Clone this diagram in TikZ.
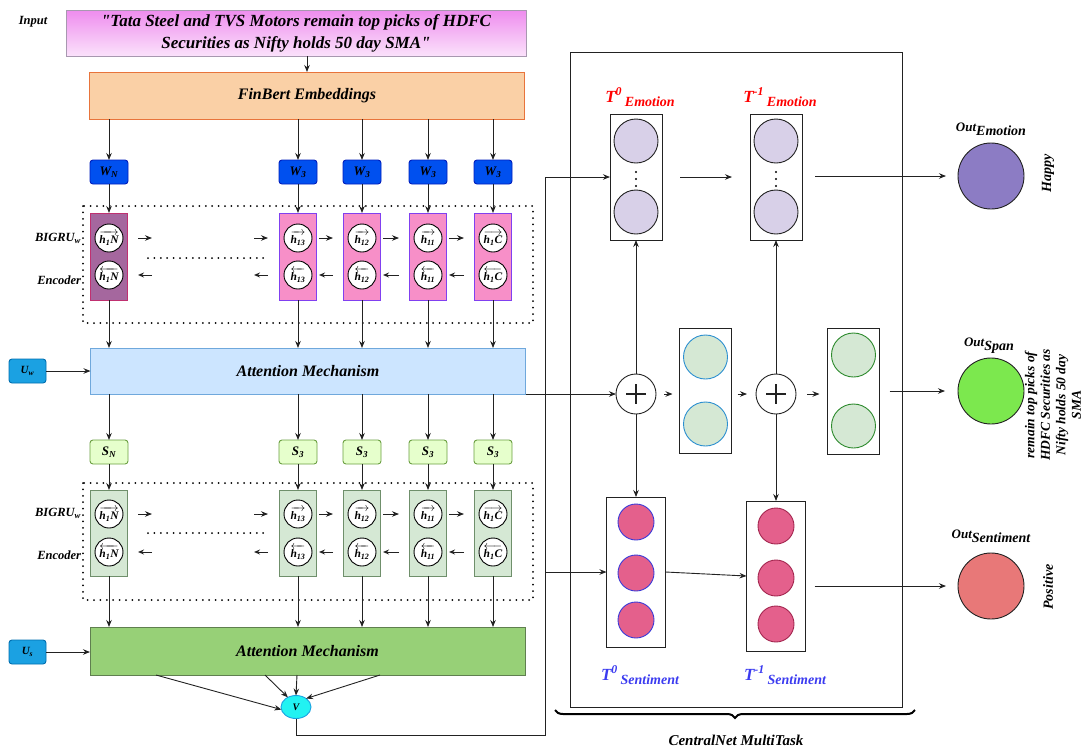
\documentclass[tikz,border=0pt]{standalone}
\usepackage{fontspec}
\usepackage{amsmath}
\setmainfont{Liberation Serif}
\usetikzlibrary{arrows.meta,decorations.pathreplacing,calc,shapes.geometric}

\definecolor{inTop}{HTML}{EE8CEE}
\definecolor{inBot}{HTML}{FBE2FB}
\definecolor{inDraw}{HTML}{A898B0}
\definecolor{finFill}{HTML}{FAD0A6}
\definecolor{finDraw}{HTML}{E8743B}
\definecolor{wFill}{HTML}{0050EF}
\definecolor{wDraw}{HTML}{001DBC}
\definecolor{uFill}{HTML}{1BA1E2}
\definecolor{uDraw}{HTML}{006EAF}
\definecolor{cellAFill}{HTML}{A5679E}
\definecolor{cellADraw}{HTML}{C03070}
\definecolor{cellPFill}{HTML}{F78FC8}
\definecolor{cellPDraw}{HTML}{8040F0}
\definecolor{attAFill}{HTML}{CCE5FF}
\definecolor{attADraw}{HTML}{6FA8DC}
\definecolor{sFill}{HTML}{E6FFCC}
\definecolor{sDraw}{HTML}{6A9F40}
\definecolor{cellGFill}{HTML}{D5E8D4}
\definecolor{cellGDraw}{HTML}{6F8F6B}
\definecolor{attBFill}{HTML}{97D077}
\definecolor{attBDraw}{HTML}{5F7F4F}
\definecolor{vFill}{HTML}{22F2F2}
\definecolor{emoFill}{HTML}{D8D0E8}
\definecolor{spanFill}{HTML}{D5E8D4}
\definecolor{spanDrawA}{HTML}{2B8FD0}
\definecolor{spanDrawB}{HTML}{2D8A2D}
\definecolor{sentFill}{HTML}{E4608C}
\definecolor{sentDrawA}{HTML}{3A3AD8}
\definecolor{sentDrawB}{HTML}{A3264F}
\definecolor{outEmo}{HTML}{8C7CC4}
\definecolor{outSpan}{HTML}{7CE84E}
\definecolor{outSent}{HTML}{E87878}
\definecolor{lblRed}{HTML}{FF0000}
\definecolor{lblBlue}{HTML}{3B3BF0}
\definecolor{edge}{HTML}{222222}

\newcommand\fs[2]{\fontsize{#1}{#2}\selectfont\bfseries\itshape}
\newcommand\hfw[1]{$\overrightarrow{\text{#1}}$}
\newcommand\hbw[1]{$\overleftarrow{\text{#1}}$}

\tikzset{
  base/.style={inner sep=0pt, outer sep=0pt},
  inbox/.style={base, draw=inDraw, top color=inTop, bottom color=inBot,
    minimum width=460pt, minimum height=46pt, align=center},
  wide/.style={base, draw, minimum width=435pt, minimum height=47pt},
  wbox/.style={base, rounded corners=3pt, fill=wFill, draw=wDraw,
    minimum width=38pt, minimum height=24pt, font=\fs{13}{15}},
  sbox/.style={base, rounded corners=3pt, fill=sFill, draw=sDraw,
    minimum width=38pt, minimum height=24pt, font=\fs{13}{15}},
  ubox/.style={base, rounded corners=3pt, fill=uFill, draw=uDraw,
    minimum width=37pt, minimum height=24pt, font=\fs{11}{13}},
  cellA/.style={base, draw=cellADraw, fill=cellAFill, minimum width=37pt, minimum height=87pt},
  cellP/.style={base, draw=cellPDraw, fill=cellPFill, minimum width=37pt, minimum height=87pt},
  cellG/.style={base, draw=cellGDraw, fill=cellGFill, minimum width=37pt, minimum height=86pt},
  hcirc/.style={base, circle, draw, fill=white, minimum size=28pt, font=\fs{11.5}{13}},
  dotline/.style={line width=2pt, line cap=round, dash pattern=on 0pt off 6.4pt},
  arr/.style={->, draw=edge},
  bwd/.style={-{Stealth[open,length=6pt,width=5pt]}, draw=edge},
  colbox/.style={base, draw=edge, minimum width=52pt},
  bigc/.style={base, circle, draw=edge, minimum size=44pt},
  sentc/.style={base, circle, fill=sentFill, minimum size=36pt},
  plus/.style={base, circle, draw=edge, minimum size=40pt,
    path picture={\draw[line width=1.2pt] (path picture bounding box.center) +(-10,0) -- +(10,0)
      (path picture bounding box.center) +(0,-10) -- +(0,10);}},
  outc/.style={base, circle, draw=edge, minimum size=66pt},
  lbl/.style={base, font=\fs{12.5}{15}},
}

\begin{document}
\begin{tikzpicture}[x=1pt,y=-1pt,line width=0.9pt,
  >={Stealth[length=7pt,width=5.5pt]}]
\useasboundingbox (0,0) rectangle (1090,748);

% ---------- input and embeddings ----------
\node[lbl] (inlab) at (33,22) {Input};
\node[inbox, font=\fs{17}{22}] (inp) at (296,33)
  {\textquotedbl Tata Steel and TVS Motors remain top picks of HDFC\\
   Securities as Nifty holds 50 day SMA\textquotedbl};
\node[wide, fill=finFill, draw=finDraw, font=\fs{16}{18}] (fin) at (307,95.5) {FinBert Embeddings};
\draw[arr] (inp.south -| fin.north) -- (fin.north);

% ---------- word level encoder ----------
\draw[dotline] (83,206) rectangle (533,323);
\draw[dotline] (148,258) -- (264,258);
\node[lbl, anchor=east] (bigA) at (81,238) {BIGRU\textsubscript{w}};
\node[lbl, anchor=east] (encA) at (81,280) {Encoder};

\node[wide, minimum height=46pt, fill=attAFill, draw=attADraw, font=\fs{16}{18}] (att1) at (308,371) {Attention Mechanism};
\node[ubox] (uw) at (27.5,371) {U\textsubscript{w}};
\draw[arr] (uw.east) -- (att1.west);

\foreach \i/\x/\w/\h/\st in {
  1/109/{W\textsubscript{N}}/{h\textsubscript{1}N}/cellA,
  2/298/{W\textsubscript{3}}/{h\textsubscript{13}}/cellP,
  3/362/{W\textsubscript{3}}/{h\textsubscript{12}}/cellP,
  4/428/{W\textsubscript{3}}/{h\textsubscript{11}}/cellP,
  5/493/{W\textsubscript{3}}/{h\textsubscript{1}C}/cellP}{
  \node[wbox] (w\i) at (\x,172) {\w};
  \node[\st] (ea\i) at (\x,256.5) {};
  \node[hcirc] (ef\i) at (\x,238) {\hfw{\h}};
  \node[hcirc] (eb\i) at (\x,275) {\hbw{\h}};
  \draw[arr] (fin.south -| w\i) -- (w\i.north);
  \draw[arr] (w\i.south) -- (ea\i.north);
  \draw[arr] (ea\i.south) -- (att1.north -| ea\i);
}
\foreach \a/\b in {2/3,3/4,4/5}{
  \draw[arr, shorten <=2.5pt, shorten >=10.5pt] (ea\a.east |- ef\a) -- (ea\b.west |- ef\a);
  \draw[bwd, shorten <=10.5pt, shorten >=2.5pt] (ea\b.west |- eb\a) -- (ea\a.east |- eb\a);
}
\draw[arr] ([xshift=10.5pt]ea1.east |- ef1) -- ([xshift=24.5pt]ea1.east |- ef1);
\draw[bwd] ([xshift=24.5pt]ea1.east |- eb1) -- ([xshift=10.5pt]ea1.east |- eb1);
\draw[arr] ([xshift=-25.5pt]ea2.west |- ef2) -- ([xshift=-11.5pt]ea2.west |- ef2);
\draw[bwd] ([xshift=-11.5pt]ea2.west |- eb2) -- ([xshift=-25.5pt]ea2.west |- eb2);

% ---------- sentence level encoder ----------
\draw[dotline] (83,483) rectangle (533,600);
\draw[dotline] (148,533) -- (264,533);
\node[lbl, anchor=east] (bigB) at (81,513) {BIGRU\textsubscript{w}};
\node[lbl, anchor=east] (encB) at (81,555) {Encoder};

\node[wide, minimum height=48pt, fill=attBFill, draw=attBDraw, font=\fs{16}{18}] (att2) at (307.5,651) {Attention Mechanism};
\node[ubox] (us) at (27.5,652) {U\textsubscript{s}};
\draw[arr] (us.east) -- (us.east -| att2.west);

\foreach \i/\x/\s/\h in {
  1/109/{S\textsubscript{N}}/{h\textsubscript{1}N},
  2/298/{S\textsubscript{3}}/{h\textsubscript{13}},
  3/362/{S\textsubscript{3}}/{h\textsubscript{12}},
  4/428/{S\textsubscript{3}}/{h\textsubscript{11}},
  5/493/{S\textsubscript{3}}/{h\textsubscript{1}C}}{
  \node[sbox] (s\i) at (\x,452) {\s};
  \node[cellG] (ga\i) at (\x,533) {};
  \node[hcirc] (gf\i) at (\x,514) {\hfw{\h}};
  \node[hcirc] (gb\i) at (\x,552) {\hbw{\h}};
  \draw[arr] (att1.south -| s\i) -- (s\i.north);
  \draw[arr] (s\i.south) -- (ga\i.north);
  \draw[arr] (ga\i.south) -- (att2.north -| ga\i);
}
\foreach \a/\b in {2/3,3/4,4/5}{
  \draw[arr, shorten <=2.5pt, shorten >=10.5pt] (ga\a.east |- gf\a) -- (ga\b.west |- gf\a);
  \draw[bwd, shorten <=10.5pt, shorten >=2.5pt] (ga\b.west |- gb\a) -- (ga\a.east |- gb\a);
}
\draw[arr] ([xshift=10.5pt]ga1.east |- gf1) -- ([xshift=24.5pt]ga1.east |- gf1);
\draw[bwd] ([xshift=24.5pt]ga1.east |- gb1) -- ([xshift=10.5pt]ga1.east |- gb1);
\draw[arr] ([xshift=-25.5pt]ga2.west |- gf2) -- ([xshift=-11.5pt]ga2.west |- gf2);
\draw[bwd] ([xshift=-11.5pt]ga2.west |- gb2) -- ([xshift=-25.5pt]ga2.west |- gb2);

% ---------- pooled vector ----------
\node[base, ellipse, fill=vFill, draw=uFill, minimum width=30pt, minimum height=23pt, font=\fs{10}{12}] (V) at (296,707) {V};
\draw[arr] ([xshift=-151.5pt]att2.south) -- (V.190);
\draw[arr] ([xshift=-42.5pt]att2.south) -- (V.130);
\draw[arr] ([xshift=-10.5pt]att2.south) -- (V.north);
\draw[arr] ([xshift=72.5pt]att2.south) -- (V.40);

% ---------- CentralNet multitask block ----------
\node[base, draw=edge, minimum width=332pt, minimum height=655pt] (cnet) at (736,379.5) {};
\draw[decorate, decoration={brace, amplitude=8pt, mirror}, line width=2pt] (555,710) -- (915,710);
\node[base, font=\fs{15}{17}] (cnlab) at (736,740) {CentralNet MultiTask};

% emotion columns
\node[colbox, minimum height=126pt] (t0e) at (636,177) {};
\node[colbox, minimum height=126pt] (t1e) at (776,177) {};
\foreach \n/\x in {a/636,b/776}{
  \node[bigc, fill=emoFill] (e\n1) at (\x,141) {};
  \node[bigc, fill=emoFill] (e\n2) at (\x,212) {};
  \foreach \yy in {172,179,186} \fill (\x,\yy) circle (1.2pt);
}
\node[base, text=lblRed] (t0elab) at (640,97)
  {\fs{17}{18}T\textsuperscript{0}\,\raisebox{-4pt}{\fs{14}{15}Emotion}};
\node[base, text=lblRed] (t1elab) at (780,97)
  {\fs{17}{18}T\textsuperscript{-1}\,\raisebox{-4pt}{\fs{14}{15}Emotion}};
\draw[arr, shorten <=18pt, shorten >=18pt] (t0e.east) -- (t1e.west);

% span columns
\node[plus] (p1) at (636,394) {};
\node[plus] (p2) at (776,394) {};
\node[colbox, minimum height=125pt] (gb1) at (705.5,390.5) {};
\node[colbox, minimum height=126pt] (gb2) at (853.5,391) {};
\node[bigc, fill=spanFill, draw=spanDrawA] (sa1) at (705.5,357) {};
\node[bigc, fill=spanFill, draw=spanDrawA] (sa2) at (705.5,424) {};
\node[bigc, fill=spanFill, draw=spanDrawB] (sb1) at (853.5,355) {};
\node[bigc, fill=spanFill, draw=spanDrawB] (sb2) at (853.5,426) {};
\draw[arr, shorten <=8pt, shorten >=7pt] (p1.east) -- (p1.east -| gb1.west);
\draw[arr, shorten <=6pt, shorten >=9pt] (gb1.east |- p2.west) -- (p2.west);
\draw[arr, shorten <=11pt, shorten >=8pt] (p2.east) -- (p2.east -| gb2.west);
\draw[arr] (p1.north) -- (t0e.south);
\draw[arr] (p2.north) -- (t1e.south);

% sentiment columns
\node[colbox, minimum width=59pt, minimum height=150pt] (t0s) at (636,572) {};
\node[colbox, minimum width=59pt, minimum height=150pt] (t1s) at (776,576) {};
\foreach \yy in {522,573,620} \node[sentc, draw=sentDrawA] at (636,\yy) {};
\foreach \yy in {526,578,624} \node[sentc, draw=sentDrawB] at (776,\yy) {};
\node[base, text=lblBlue] (t0slab) at (640,675)
  {\fs{17}{18}T\textsuperscript{0}\,\raisebox{-4pt}{\fs{14}{15}Sentiment}};
\node[base, text=lblBlue] (t1slab) at (785,675)
  {\fs{17}{18}T\textsuperscript{-1}\,\raisebox{-4pt}{\fs{14}{15}Sentiment}};
\draw[arr] (p1.south) -- (t0s.north);
\draw[arr] (p2.south) -- (t1s.north);
\draw[arr] (t0s.east) -- (t1s.west);

% feeds into the block
\coordinate (busb) at (545,735);
\coordinate (bust) at (545,177);
\draw[arr] (V.south) |- (busb) -- (bust) -- (t0e.west);
\draw[arr] (bust |- t0s.west) -- (t0s.west);
\draw[arr] (att1.south east) -- (p1.west);

% ---------- outputs ----------
\node[outc, fill=outEmo] (oe) at (991,176) {};
\node[outc, fill=outSpan] (os) at (991,391) {};
\node[outc, fill=outSent] (ot) at (991,586) {};
\draw[arr, shorten <=13pt, shorten >=12pt] (t1e.east |- oe.west) -- (oe.west);
\draw[arr, shorten <=10pt, shorten >=13pt] (gb2.east |- os.west) -- (os.west);
\draw[arr, shorten <=9pt, shorten >=12pt] (t1s.east |- ot.west) -- (ot.west);

\node[base] (oelab) at (991,129) {\fs{13}{15}Out\raisebox{-4pt}{\fs{14}{15}Emotion}};
\node[base] (oslab) at (989,346) {\fs{13}{15}Out\raisebox{-4pt}{\fs{14}{15}Span}};
\node[base] (otlab) at (991,536) {\fs{13}{15}Out\raisebox{-4pt}{\fs{14}{15}Sentiment}};

\node[base, rotate=90, font=\fs{14}{16}] (happy) at (1048,173) {Happy};
\node[base, rotate=90, font=\fs{14}{16}] (pos) at (1048,587) {Positive};
\node[base, rotate=90, align=center, font=\fs{13.5}{15.5}] (spantxt) at (1053,405)
  {remain top picks of\\HDFC Securities as\\Nifty holds 50 day\\SMA};
\end{tikzpicture}
\end{document}
